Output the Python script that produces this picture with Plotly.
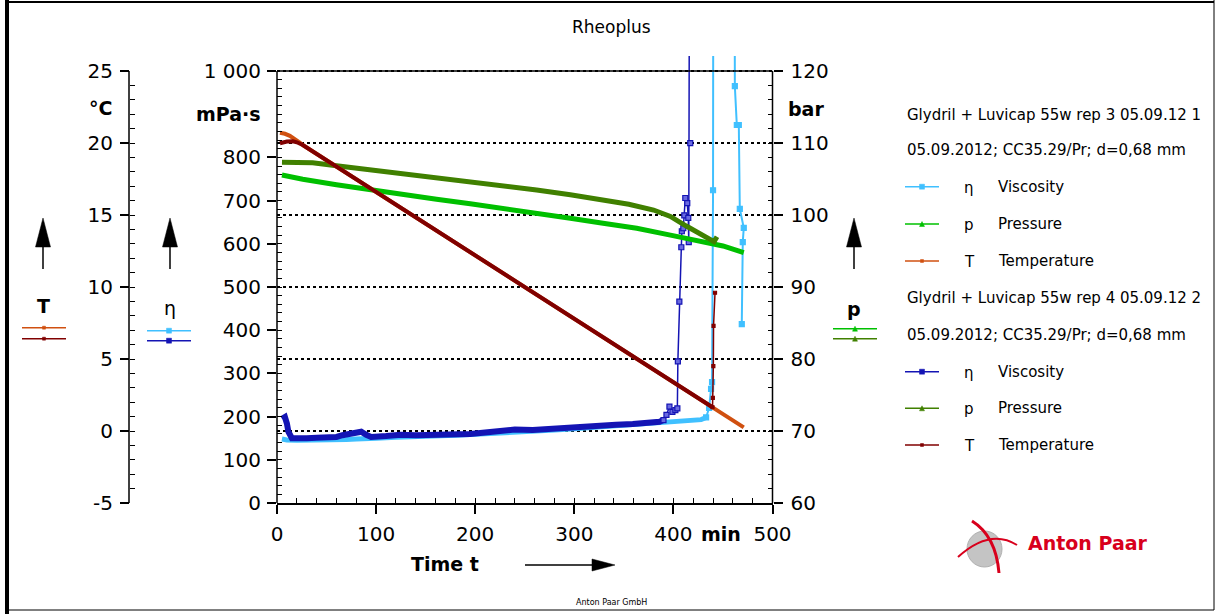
import plotly.graph_objects as go

W, H = 1219, 614
FONT = "DejaVu Sans"

# ---------------- data ----------------
# Series 1: Glydril + Luvicap 55w rep 3
t_eta1 = [5, 10, 20, 30, 40, 50, 60, 70, 80, 90, 100, 120, 140, 160, 180, 200, 220, 240,
          260, 280, 300, 320, 340, 360, 380, 400, 410, 420, 428, 433, 436, 438, 439, 440,
          441, 461, 462, 464, 466, 467, 471, 470, 469]
eta1 = [148, 146, 145, 145, 146, 146, 147, 147, 148, 150, 150, 152, 153, 155, 157, 159, 161, 163,
        166, 169, 172, 175, 177, 180, 183, 186, 188, 190, 193, 198, 220, 264, 280, 724,
        3000, 3000, 965, 875, 875, 681, 637, 604, 414]

t_p1 = [5, 26, 60, 94, 127, 161, 195, 228, 262, 296, 329, 363, 397, 430, 450, 471]
p1 = [105.56, 104.96, 104.2, 103.47, 102.82, 102.18, 101.55, 100.93, 100.23, 99.54, 98.85,
      98.15, 97.2, 96.29, 95.7, 94.77]

t_T1 = [3, 8, 13, 18, 23, 26, 50, 100, 150, 200, 250, 300, 350, 400, 440, 471]
T1 = [20.71, 20.64, 20.5, 20.3, 20.02, 19.86, 18.8, 16.6, 14.39, 12.19, 9.98, 7.78, 5.57,
      3.37, 1.6, 0.25]

# Series 2: Glydril + Luvicap 55w rep 4
t_eta2 = [5, 6.5, 8, 10, 11.5, 15, 20, 30, 40, 50, 60, 66, 75, 80, 85, 90, 95, 110, 125, 140,
          160, 180, 195, 210, 228, 240, 258, 275, 292, 310, 326, 342, 359, 376, 386, 390, 393,
          396, 399, 402, 404, 404.5, 406, 408, 408.5, 410, 411, 412, 414, 415, 415.5, 417, 418]
eta2 = [195, 200, 199, 184, 165, 150, 149, 150, 151, 151, 153, 157, 160, 163, 165, 158, 153,
        155, 158, 157, 157, 158, 160, 163, 167, 170, 169, 172, 175, 177, 178, 181, 183, 186,
        188, 192, 204, 223, 211, 215, 219, 328, 466, 592, 629, 636, 666, 706, 694, 660, 604,
        833, 3000]

t_p2 = [5, 20, 36, 60, 94, 127, 161, 195, 228, 262, 296, 329, 355, 380, 397, 413, 430, 438,
        441, 444]
p2 = [107.32, 107.32, 107.27, 106.85, 106.3, 105.79, 105.2, 104.63, 104.05, 103.47, 102.8,
      102.08, 101.5, 100.69, 99.8, 98.47, 97.22, 96.45, 96.3, 96.99]

t_T2 = [3, 10, 16, 20, 26, 50, 100, 150, 200, 250, 300, 350, 400, 439.5, 439.8, 440.3, 440.5, 442]
T2 = [19.98, 20.1, 20.12, 20.05, 19.86, 18.8, 16.6, 14.39, 12.19, 9.98, 7.78, 5.57, 3.37,
      1.65, 2.3, 4.5, 7.3, 9.6]

# ---------------- ticks ----------------
time_ticks = [0, 100, 200, 300, 400, 500]
time_labels = ["0", "100", "200", "300", "400", "500"]
eta_ticks = [0, 100, 200, 300, 400, 500, 600, 700, 800, 900, 1000]
eta_labels = ["0", "100", "200", "300", "400", "500", "600", "700", "800", "", "1 000"]
p_ticks = [60, 70, 80, 90, 100, 110, 120]
p_labels = ["60", "70", "80", "90", "100", "110", "120"]
T_ticks = [-5, 0, 5, 10, 15, 20, 25]
T_labels = ["-5", "0", "5", "10", "15", "20", "25"]

legend_headers = ["Glydril + Luvicap 55w rep 3 05.09.12 1", "Glydril + Luvicap 55w rep 4 05.09.12 2"]
legend_sub = "05.09.2012; CC35.29/Pr; d=0,68 mm"
legend_syms = ["η", "p", "T"]
legend_names = ["Viscosity", "Pressure", "Temperature"]

C_ETA1, C_P1, C_T1 = "#40C0FF", "#00C000", "#D05010"
C_ETA2, C_P2, C_T2 = "#1414B4", "#408000", "#800000"

# ---------------- layout geometry ----------------
X0, X1 = 277, 772.5       # plot area left/right (px)
Y0, YTOP = 503, 56        # plot bottom / domain top (px)
YMAX = 71                 # pixel of 1000 mPa·s
ext = (Y0 - YTOP) / (Y0 - YMAX)


def px(x):
    return x / W


def py(y):
    return 1 - y / H


fig = go.Figure()


def add_split(t, v, split_val, color, yaxis, width_main, width_spike, symbol, msize, name,
              mfill=None):
    k = t.index(split_val)
    fig.add_trace(go.Scatter(x=t[:k + 1], y=v[:k + 1], yaxis=yaxis, mode="lines",
                             line=dict(color=color, width=width_main), name=name,
                             showlegend=False, hoverinfo="skip"))
    fig.add_trace(go.Scatter(x=t[k:], y=v[k:], yaxis=yaxis, mode="lines+markers",
                             line=dict(color=color, width=width_spike),
                             marker=dict(symbol=symbol, size=msize, color=mfill or color,
                                         line=dict(color=color, width=1.2)),
                             name=name, showlegend=False, hoverinfo="skip"))


fig.add_trace(go.Scatter(x=t_p1, y=p1, yaxis="y2", mode="lines",
                         line=dict(color=C_P1, width=5), name="p Pressure (rep 3)", showlegend=False))
fig.add_trace(go.Scatter(x=t_p2, y=p2, yaxis="y2", mode="lines",
                         line=dict(color=C_P2, width=5), name="p Pressure (rep 4)", showlegend=False))
fig.add_trace(go.Scatter(x=t_T1, y=T1, yaxis="y3", mode="lines",
                         line=dict(color=C_T1, width=4), name="T Temperature (rep 3)", showlegend=False))
add_split(t_T2, T2, 439.5, C_T2, "y3", 4, 1.5, "square", 3, "T Temperature (rep 4)")
add_split(t_eta1, eta1, 433, C_ETA1, "y", 5, 2, "square", 5, "η Viscosity (rep 3)")
add_split(t_eta2, eta2, 390, C_ETA2, "y", 6, 1.5, "square", 5, "η Viscosity (rep 4)",
          mfill="#6A6AE0")

tickfont = dict(family=FONT, size=20, color="black")

fig.update_layout(
    template="none",
    width=W, height=H,
    margin=dict(l=0, r=0, t=0, b=0),
    paper_bgcolor="white", plot_bgcolor="rgba(0,0,0,0)",
    showlegend=False,
    font=dict(family=FONT, color="black"),
    xaxis=dict(domain=[px(X0), px(X1)], range=[0, 500], tickvals=time_ticks, ticktext=time_labels,
               ticks="outside", ticklen=9, tickwidth=1.5, tickcolor="black",
               minor=dict(tickvals=list(range(20, 500, 20)), ticks="inside", ticklen=5,
                          tickwidth=1.2, tickcolor="black", showgrid=False),
               showline=True, linecolor="black", linewidth=1.5, showgrid=False, zeroline=False,
               tickfont=tickfont, ticklabelstandoff=3, automargin=False, anchor="y"),
    yaxis=dict(domain=[py(Y0), py(YTOP)], range=[0, 1000 * ext], tickvals=eta_ticks,
               ticktext=eta_labels, ticks="outside", ticklen=9, tickwidth=1.5, tickcolor="black",
               minor=dict(tickvals=list(range(20, 1000, 20)), ticks="inside", ticklen=5,
                          tickwidth=1.2, tickcolor="black", showgrid=False),
               showline=False, showgrid=False, zeroline=False, tickfont=tickfont,
               ticklabelstandoff=2, automargin=False, anchor="x"),
    yaxis2=dict(overlaying="y", side="right", anchor="x", range=[60, 60 + 60 * ext],
                tickvals=p_ticks, ticktext=p_labels, ticks="outside", ticklen=9, tickwidth=1.5,
                tickcolor="black",
                minor=dict(tickvals=list(range(62, 120, 2)), ticks="inside", ticklen=5,
                           tickwidth=1.2, tickcolor="black", showgrid=False),
                showline=False, showgrid=True, gridcolor="black", griddash="dot", gridwidth=1.5,
                zeroline=False, tickfont=tickfont, ticklabelstandoff=4, automargin=False),
    yaxis3=dict(overlaying="y", side="left", anchor="free", position=px(129),
                range=[-5, -5 + 30 * ext], tickvals=T_ticks, ticktext=T_labels, ticks="outside",
                ticklen=9, tickwidth=1.5, tickcolor="black",
                minor=dict(tickvals=list(range(-4, 25, 1)), ticks="inside", ticklen=5,
                           tickwidth=1.2, tickcolor="black", showgrid=False),
                showline=False, showgrid=False, zeroline=False, tickfont=tickfont,
                ticklabelstandoff=3, automargin=False),
)

shapes = []
ann = []


def pline(x0, y0, x1, y1, color="black", width=1.5):
    shapes.append(dict(type="line", xref="paper", yref="paper", x0=px(x0), y0=py(y0),
                       x1=px(x1), y1=py(y1), line=dict(color=color, width=width)))


def ppath(points, color, fill=True, width=1):
    d = "M " + " L ".join(f"{px(x)},{py(y)}" for x, y in points) + " Z"
    shapes.append(dict(type="path", xref="paper", yref="paper", path=d,
                       fillcolor=color if fill else "rgba(0,0,0,0)",
                       line=dict(color=color, width=width)))


def sq(cx, cy, s, color):
    shapes.append(dict(type="rect", xref="paper", yref="paper", x0=px(cx - s / 2), x1=px(cx + s / 2),
                       y0=py(cy + s / 2), y1=py(cy - s / 2), fillcolor=color,
                       line=dict(color=color, width=0.5)))


def tri(cx, cy, s, color):
    ppath([(cx - s / 2, cy + s / 2), (cx + s / 2, cy + s / 2), (cx, cy - s / 2)], color, True, 0.5)


def text(x, y, s, size=15, bold=False, anchor="center", color="black", family=FONT):
    t = f"<b>{s}</b>" if bold else s
    ann.append(dict(xref="paper", yref="paper", x=px(x), y=py(y), text=t, showarrow=False,
                    xanchor=anchor, yanchor="middle", font=dict(family=family, size=size, color=color)))


def swatch(x0, x1, y, color, kind):
    pline(x0, y, x1, y, color, 1.5)
    cx = (x0 + x1) / 2
    if kind == "eta":
        sq(cx, y, 5, color)
    elif kind == "p":
        tri(cx, y, 5, color)
    else:
        sq(cx, y, 3, color)


# axis lines drawn to the 1000 / 120 / 25 level only
shapes.append(dict(type="line", xref="paper", yref="y", x0=px(X0), x1=px(X0), y0=0, y1=1000,
                   line=dict(color="black", width=1.5)))
shapes.append(dict(type="line", xref="paper", yref="y2", x0=px(X1), x1=px(X1), y0=60, y1=120,
                   line=dict(color="black", width=1.5)))
shapes.append(dict(type="line", xref="paper", yref="y3", x0=px(129), x1=px(129), y0=-5, y1=25,
                   line=dict(color="black", width=1.5)))
shapes.append(dict(type="line", xref="x", yref="y", x0=0, x1=500, y0=1000, y1=1000,
                   line=dict(color="black", width=1.5)))

# frame
pline(7, 0, 7, H, "black", 4)
pline(7, 2, 1214, 2, "black", 2)
pline(1214, 0, 1214, 610, "black", 1)
pline(7, 610, 1214, 610, "black", 1)

# title and footer
text(611, 27, "Rheoplus", 17)
text(611, 602, "Anton Paar GmbH", 8)

# unit labels
text(100, 108, "°C", 19, True)
text(228, 114, "mPa·s", 19, True)
text(806, 109, "bar", 19, True)
text(721, 534, "min", 19, True)
text(445, 564, "Time t", 19, True)

# axis arrows
for ax in (43, 170, 854):
    pline(ax, 269, ax, 240, "black", 1.5)
    ppath([(ax - 7.5, 247), (ax + 7.5, 247), (ax, 218)], "black", True, 0.5)
pline(525, 565, 596, 565, "black", 1.5)
ppath([(592, 559), (592, 571), (615, 565)], "black", True, 0.5)

# side legends
text(43, 306, "T", 19, True)
swatch(22, 66, 327.7, C_T1, "T")
swatch(22, 66, 338.7, C_T2, "T")
text(170, 308, "η", 19, False)
swatch(147, 191, 330.7, C_ETA1, "eta")
swatch(147, 191, 340.7, C_ETA2, "eta")
text(854, 309, "p", 19, True)
swatch(833, 877, 328.7, C_P1, "p")
swatch(833, 877, 338.7, C_P2, "p")

# right legend
row_y = [115, 150, 186.7, 224, 261, 298.3, 335, 371.7, 408.3, 445]
colors = [[C_ETA1, C_P1, C_T1], [C_ETA2, C_P2, C_T2]]
kinds = ["eta", "p", "T"]
for g in range(2):
    base = g * 5
    text(905, row_y[base], legend_headers[g], 15, anchor="left")
    text(905, row_y[base + 1], legend_sub, 15, anchor="left")
    for i in range(3):
        y = row_y[base + 2 + i]
        swatch(905, 939, y, colors[g][i], kinds[i])
        text(962, y + 1, legend_syms[i], 15, anchor="left")
        text(996, y, legend_names[i], 15, anchor="left")

# Anton Paar logo
shapes.append(dict(type="circle", xref="paper", yref="paper", x0=px(967), x1=px(1002),
                   y0=py(567), y1=py(531), fillcolor="#C4C4C4", line=dict(color="#B0B0B0", width=1)))
shapes.append(dict(type="path", xref="paper", yref="paper",
                   path=f"M {px(972)},{py(521)} Q {px(996)},{py(536)} {px(999)},{py(573)}",
                   line=dict(color="#D8001C", width=3)))
shapes.append(dict(type="path", xref="paper", yref="paper",
                   path=f"M {px(958)},{py(557)} Q {px(990)},{py(528)} {px(1017)},{py(545)}",
                   line=dict(color="#D8001C", width=2)))
text(1088, 543, "Anton Paar", 19, True, color="#D8001C")

fig.update_layout(shapes=shapes, annotations=ann)
fig.write_html("out.html", config={"displayModeBar": False},
               post_script="document.body.style.margin='0px';")
